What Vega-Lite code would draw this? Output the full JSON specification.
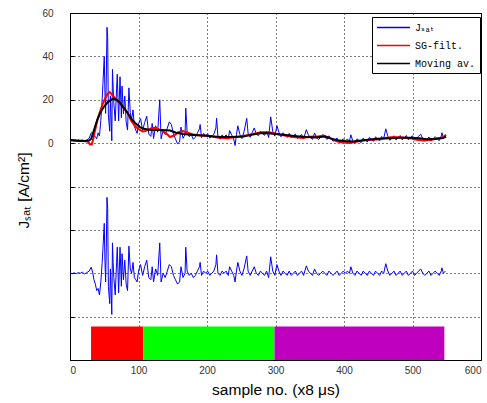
{
  "$schema": "https://vega.github.io/schema/vega-lite/v6.json",
  "width": 411,
  "height": 347,
  "autosize": {"type": "none"},
  "padding": {"left": 70, "top": 13, "right": 6, "bottom": 43},
  "background": "white",
  "config": {
    "view": {"stroke": "black", "strokeWidth": 1},
    "axis": {
      "domain": false,
      "tickColor": "black",
      "labelFont": "Liberation Sans",
      "labelFontSize": 10,
      "labelColor": "#333",
      "titleFont": "Liberation Sans",
      "titleFontSize": 15.5,
      "titleFontWeight": "normal",
      "titleColor": "black",
      "grid": true,
      "gridColor": "black",
      "gridOpacity": 1,
      "gridDash": [1, 3],
      "gridWidth": 1
    }
  },
  "datasets": {
    "sig": [
      {"x":0,"j":2.0,"h":-59.5},{"x":3,"j":1.1,"h":-60.3},{"x":6,"j":1.5,"h":-59.8},{"x":9,"j":1.0,"h":-60.2},{"x":12,"j":1.5,"h":-59.7},{"x":15,"j":1.1,"h":-60},{"x":18,"j":1.5,"h":-59.5},{"x":21,"j":0.7,"h":-60.3},{"x":24,"j":1.3,"h":-59.8},{"x":28,"j":2.2,"h":-59},
      {"x":31,"j":4.8,"h":-57.2},{"x":33,"j":4.5,"h":-59.5},{"x":35,"j":3.0,"h":-63},{"x":37,"j":3.0,"h":-65},{"x":39,"j":2.0,"h":-68},{"x":41,"j":4.75,"h":-67},{"x":43,"j":3.25,"h":-70},{"x":45,"j":10.5,"h":-64},{"x":47,"j":20.5,"h":-55},{"x":48,"j":27,"h":-49},
      {"x":50,"j":40,"h":-37},{"x":51,"j":23.4,"h":-54},{"x":52,"j":13.7,"h":-64},{"x":53,"j":30,"h":-48},{"x":54,"j":53.4,"h":-25},{"x":55,"j":48.8,"h":-30},{"x":56,"j":13,"h":-66},{"x":58,"j":5.5,"h":-74},{"x":59,"j":21.8,"h":-58},{"x":61,"j":1.1,"h":-79},
      {"x":62,"j":34,"h":-46},{"x":63,"j":25.4,"h":-55},{"x":64,"j":18.5,"h":-62},{"x":66,"j":10.25,"h":-70},{"x":68,"j":25,"h":-55},{"x":69,"j":31.75,"h":-48},{"x":71,"j":10.25,"h":-69},{"x":73,"j":30.6,"h":-48},{"x":75,"j":11.75,"h":-66},{"x":76,"j":26.3,"h":-51},
      {"x":78,"j":13.5,"h":-63},{"x":80,"j":21.7,"h":-54},{"x":82,"j":9.8,"h":-65},{"x":84,"j":6,"h":-68},{"x":86,"j":25.5,"h":-47.5},{"x":88,"j":14,"h":-58},{"x":90,"j":11,"h":-60},{"x":92,"j":15.3,"h":-55},{"x":94,"j":7.7,"h":-62},{"x":96,"j":6,"h":-63},
      {"x":98,"j":4.5,"h":-64},{"x":100,"j":8.9,"h":-59},{"x":103,"j":11.3,"h":-56},{"x":106,"j":5.9,"h":-61},{"x":109,"j":9.5,"h":-57},{"x":112,"j":12.4,"h":-54},{"x":115,"j":4.2,"h":-62},{"x":118,"j":3.1,"h":-63},{"x":120,"j":9.1,"h":-57},{"x":122,"j":2.1,"h":-64},
      {"x":125,"j":8,"h":-58},{"x":128,"j":5,"h":-61},{"x":131,"j":20,"h":-46},{"x":133,"j":2,"h":-64},{"x":136,"j":6,"h":-60},{"x":139,"j":3.9,"h":-62},{"x":142,"j":6.9,"h":-59},{"x":145,"j":9.8,"h":-56},{"x":148,"j":8.6,"h":-57},{"x":151,"j":4.2,"h":-61},
      {"x":154,"j":1.9,"h":-63},{"x":157,"j":-0.3,"h":-65},{"x":160,"j":0.5,"h":-64},{"x":162,"j":7.4,"h":-57},{"x":165,"j":2.2,"h":-62},{"x":168,"j":4.1,"h":-60},{"x":169,"j":16.1,"h":-48},{"x":171,"j":5.05,"h":-59},{"x":174,"j":3,"h":-61},{"x":177,"j":3.9,"h":-60},
      {"x":180,"j":1.8,"h":-62},{"x":183,"j":2.75,"h":-61},{"x":186,"j":4.7,"h":-59},{"x":189,"j":6.6,"h":-57},{"x":190,"j":8.6,"h":-55},{"x":192,"j":2.55,"h":-61},{"x":195,"j":4.5,"h":-59},{"x":198,"j":3.4,"h":-60},{"x":201,"j":4.35,"h":-59},{"x":204,"j":2.3,"h":-61},
      {"x":207,"j":3.2,"h":-60},{"x":210,"j":4.1,"h":-59},{"x":213,"j":7,"h":-56},{"x":214,"j":11.5,"h":-51.5},{"x":216,"j":2.9,"h":-60},{"x":219,"j":1.8,"h":-61},{"x":222,"j":3.8,"h":-59},{"x":225,"j":2.8,"h":-60},{"x":228,"j":3.8,"h":-59},{"x":231,"j":1.8,"h":-61},
      {"x":233,"j":5.8,"h":-57},{"x":236,"j":3.8,"h":-59},{"x":239,"j":1.9,"h":-61},{"x":241,"j":-1.1,"h":-64},{"x":243,"j":3.9,"h":-59},{"x":245,"j":8,"h":-55},{"x":248,"j":4,"h":-59},{"x":251,"j":2.1,"h":-61},{"x":254,"j":5.2,"h":-58},{"x":258,"j":11.4,"h":-52},
      {"x":260,"j":4.5,"h":-59},{"x":263,"j":2.7,"h":-61},{"x":266,"j":4.9,"h":-59},{"x":269,"j":7,"h":-57},{"x":272,"j":4.2,"h":-60},{"x":275,"j":3.4,"h":-61},{"x":278,"j":5.5,"h":-59},{"x":281,"j":4.5,"h":-60},{"x":284,"j":3.55,"h":-61},{"x":287,"j":5.6,"h":-59},
      {"x":290,"j":2.6,"h":-62},{"x":293,"j":12.1,"h":-52.4},{"x":296,"j":5.4,"h":-59},{"x":299,"j":3.2,"h":-61},{"x":302,"j":8.1,"h":-56},{"x":305,"j":5,"h":-59},{"x":308,"j":2.9,"h":-61},{"x":311,"j":4.8,"h":-59},{"x":314,"j":3.7,"h":-60},{"x":317,"j":2.6,"h":-61},
      {"x":320,"j":4.5,"h":-59},{"x":323,"j":2.4,"h":-61},{"x":326,"j":3.3,"h":-60},{"x":329,"j":4.2,"h":-59},{"x":332,"j":2.15,"h":-61},{"x":335,"j":3.05,"h":-60},{"x":338,"j":4,"h":-59},{"x":341,"j":1.9,"h":-61},{"x":345,"j":6.2,"h":-56.6},{"x":348,"j":3.75,"h":-59},
      {"x":351,"j":2.7,"h":-60},{"x":354,"j":1.7,"h":-61},{"x":357,"j":4.65,"h":-58},{"x":360,"j":2.6,"h":-60},{"x":363,"j":1.7,"h":-61},{"x":366,"j":2.8,"h":-60},{"x":369,"j":3.9,"h":-59},{"x":372,"j":3,"h":-60},{"x":375,"j":1.7,"h":-61},{"x":378,"j":3.4,"h":-59},
      {"x":381,"j":2.1,"h":-60},{"x":384,"j":0.85,"h":-61},{"x":387,"j":1.6,"h":-60},{"x":390,"j":2.3,"h":-59},{"x":393,"j":0.2,"h":-61},{"x":396,"j":1.1,"h":-60},{"x":399,"j":2,"h":-59},{"x":402,"j":1,"h":-60},{"x":405,"j":1.9,"h":-59},{"x":408,"j":0.9,"h":-60},
      {"x":410,"j":3.85,"h":-57},{"x":413,"j":0.8,"h":-60},{"x":416,"j":-0.1,"h":-61},{"x":419,"j":2,"h":-59},{"x":422,"j":1.1,"h":-60},{"x":425,"j":0.2,"h":-61},{"x":428,"j":2.3,"h":-59},{"x":431,"j":1.4,"h":-60},{"x":434,"j":0.55,"h":-61},{"x":437,"j":2.65,"h":-59},
      {"x":440,"j":1.75,"h":-60},{"x":443,"j":0.8,"h":-61},{"x":446,"j":2.9,"h":-59},{"x":449,"j":2,"h":-60},{"x":452,"j":1,"h":-61},{"x":455,"j":3.1,"h":-59},{"x":458,"j":2.15,"h":-60},{"x":461,"j":6.6,"h":-55.6},{"x":464,"j":3.25,"h":-59},{"x":467,"j":1.3,"h":-61},
      {"x":470,"j":2.3,"h":-60},{"x":473,"j":3.4,"h":-59},{"x":476,"j":1.4,"h":-61},{"x":479,"j":2.5,"h":-60},{"x":482,"j":3.5,"h":-59},{"x":485,"j":1.5,"h":-61},{"x":488,"j":2.5,"h":-60},{"x":491,"j":3.5,"h":-59},{"x":494,"j":1.5,"h":-61},{"x":497,"j":2.5,"h":-60},
      {"x":500,"j":3.4,"h":-59},{"x":503,"j":1.35,"h":-61},{"x":506,"j":2.3,"h":-60},{"x":509,"j":3.2,"h":-59},{"x":512,"j":4.1,"h":-58},{"x":515,"j":2,"h":-60},{"x":518,"j":0.9,"h":-61},{"x":521,"j":1.8,"h":-60},{"x":524,"j":2.85,"h":-59},{"x":527,"j":0.9,"h":-61},
      {"x":530,"j":1.95,"h":-60},{"x":533,"j":3,"h":-59},{"x":536,"j":2.05,"h":-60},{"x":539,"j":1.15,"h":-61},{"x":542,"j":3.3,"h":-59},{"x":543,"j":4.8,"h":-57.5},{"x":545,"j":2.4,"h":-60},{"x":548,"j":3.9,"h":-59}
    ],
    "sg": [
      {"x":0,"v":1.2},{"x":10,"v":1.0},{"x":20,"v":1.0},{"x":26,"v":0.8},{"x":29,"v":-0.6},{"x":32,"v":-0.5},{"x":36,"v":5},{"x":40,"v":10.5},{"x":43,"v":13.6},{"x":47,"v":17.5},
      {"x":51,"v":20.5},{"x":55,"v":22.8},{"x":58,"v":23.5},{"x":61,"v":22.5},{"x":64,"v":21.3},{"x":70,"v":19},{"x":74,"v":17.8},{"x":77,"v":16.7},{"x":81,"v":15.2},{"x":85,"v":13.4},
      {"x":89,"v":10.5},{"x":93,"v":8.6},{"x":97,"v":7.2},{"x":101,"v":6.3},{"x":106,"v":5.4},{"x":110,"v":5.6},{"x":114,"v":6.2},{"x":119,"v":6.9},{"x":124,"v":7.1},{"x":129,"v":6.6},
      {"x":134,"v":5.7},{"x":140,"v":4.6},{"x":146,"v":2.8},{"x":152,"v":3.5},{"x":158,"v":5.0},{"x":165,"v":5.6},{"x":172,"v":4.8},{"x":180,"v":4.0},{"x":190,"v":3.5},{"x":204,"v":3.3},
      {"x":215,"v":2.6},{"x":229,"v":2.3},{"x":243,"v":2.8},{"x":258,"v":3.6},{"x":270,"v":4.5},{"x":280,"v":5.0},{"x":290,"v":5.0},{"x":300,"v":4.4},{"x":307,"v":3.9},{"x":318,"v":3.3},
      {"x":326,"v":2.8},{"x":340,"v":2.4},{"x":350,"v":2.9},{"x":360,"v":3.0},{"x":370,"v":3.5},{"x":380,"v":2.3},{"x":389,"v":0.8},{"x":399,"v":0.3},{"x":409,"v":0.1},{"x":418,"v":0.6},
      {"x":428,"v":1.2},{"x":438,"v":1.5},{"x":448,"v":1.7},{"x":460,"v":2.4},{"x":472,"v":2.8},{"x":485,"v":2.6},{"x":496,"v":2.3},{"x":506,"v":1.6},{"x":516,"v":1.2},{"x":523,"v":1.4},
      {"x":530,"v":1.7},{"x":538,"v":2.2},{"x":545,"v":2.8},{"x":549,"v":3.8}
    ],
    "ma": [
      {"x":0,"v":1.5},{"x":10,"v":1.2},{"x":20,"v":1.0},{"x":28,"v":1.2},{"x":31,"v":2},{"x":34,"v":5},{"x":37,"v":8},{"x":40,"v":11},{"x":44,"v":14},{"x":50,"v":17},
      {"x":55,"v":18.8},{"x":60,"v":20},{"x":64,"v":20.5},{"x":68,"v":20},{"x":72,"v":19},{"x":78,"v":16.5},{"x":84,"v":14},{"x":90,"v":11},{"x":96,"v":9},{"x":102,"v":7.4},
      {"x":108,"v":6.6},{"x":115,"v":6.2},{"x":125,"v":6},{"x":135,"v":6},{"x":146,"v":5.8},{"x":155,"v":4.8},{"x":165,"v":4.2},{"x":180,"v":3.8},{"x":195,"v":3.5},{"x":210,"v":3.1},
      {"x":220,"v":2.8},{"x":235,"v":2.8},{"x":253,"v":3.1},{"x":265,"v":3.8},{"x":277,"v":4.5},{"x":290,"v":4.6},{"x":300,"v":4.2},{"x":315,"v":3.7},{"x":330,"v":3.2},{"x":345,"v":2.8},
      {"x":360,"v":2.6},{"x":372,"v":3.0},{"x":380,"v":2.2},{"x":390,"v":1.3},{"x":400,"v":1.0},{"x":413,"v":0.8},{"x":425,"v":1.2},{"x":438,"v":1.7},{"x":450,"v":2.0},{"x":467,"v":2.3},
      {"x":482,"v":2.5},{"x":496,"v":2.5},{"x":510,"v":2.2},{"x":521,"v":1.8},{"x":535,"v":2.0},{"x":545,"v":2.4},{"x":549,"v":3.0}
    ],
    "bands": [
      {"a":30.7,"b":107,"c":"r"},{"a":107,"b":298.5,"c":"g"},{"a":298.5,"b":546.5,"c":"m"}
    ]
  },
  "layer": [
    {
      "data": {"name": "bands"},
      "mark": {"type": "rect"},
      "encoding": {
        "x": {"field": "a", "type": "quantitative", "scale": {"domain": [0, 600], "nice": false},
              "axis": {"values": [0,100,200,300,400,500,600], "title": "sample no. (x8 μs)", "tickSize": -4, "labelPadding": 9, "titlePadding": 7}},
        "x2": {"field": "b"},
        "y": {"datum": -84.5, "type": "quantitative", "scale": {"domain": [-100, 60], "nice": false},
              "axis": {"values": [-100,-80,-60,-40,-20,0,20,40,60], "labelExpr": "datum.value >= 0 ? datum.label : ''", "title": "Jₛₐₜ [A/cm²]", "tickSize": -4, "labelPadding": 21, "titlePadding": 10, "titleY": 177}},
        "y2": {"datum": -100},
        "fill": {"field": "c", "type": "nominal", "scale": {"domain": ["r","g","m"], "range": ["#ff0000","#00ff00","#bf00bf"]}, "legend": null}
      }
    },
    {
      "data": {"name": "sig"},
      "mark": {"type": "line", "strokeWidth": 1, "interpolate": "linear"},
      "encoding": {
        "x": {"field": "x", "type": "quantitative"},
        "y": {"field": "j", "type": "quantitative", "title": "Jₛₐₜ [A/cm²]"},
        "color": {"datum": "Jₛₐₜ", "type": "nominal"}
      }
    },
    {
      "data": {"name": "sig"},
      "mark": {"type": "line", "strokeWidth": 1},
      "encoding": {
        "x": {"field": "x", "type": "quantitative"},
        "y": {"field": "h", "type": "quantitative", "title": "Jₛₐₜ [A/cm²]"},
        "color": {"datum": "Jₛₐₜ", "type": "nominal"}
      }
    },
    {
      "data": {"name": "sg"},
      "mark": {"type": "line", "strokeWidth": 2},
      "encoding": {
        "x": {"field": "x", "type": "quantitative"},
        "y": {"field": "v", "type": "quantitative", "title": "Jₛₐₜ [A/cm²]"},
        "color": {"datum": "SG-filt.", "type": "nominal"}
      }
    },
    {
      "data": {"name": "ma"},
      "mark": {"type": "line", "strokeWidth": 2},
      "encoding": {
        "x": {"field": "x", "type": "quantitative"},
        "y": {"field": "v", "type": "quantitative", "title": "Jₛₐₜ [A/cm²]"},
        "color": {
          "datum": "Moving av.", "type": "nominal",
          "scale": {"domain": ["Jₛₐₜ", "SG-filt.", "Moving av."], "range": ["#0000ff", "#ff0000", "#000000"]},
          "legend": {
            "title": null,
            "orient": "none",
            "legendX": 302,
            "legendY": 4,
            "strokeColor": "black",
            "fillColor": "white",
            "padding": 4,
            "symbolType": "M-1,0H5",
            "symbolSize": 121,
            "symbolStrokeWidth": 1.5,
            "labelOffset": 26,
            "rowPadding": 6,
            "labelFont": "Liberation Mono, DejaVu Sans",
            "labelFontSize": 10,
            "labelColor": "black",
            "cornerRadius": 0
          }
        }
      }
    }
  ]
}
